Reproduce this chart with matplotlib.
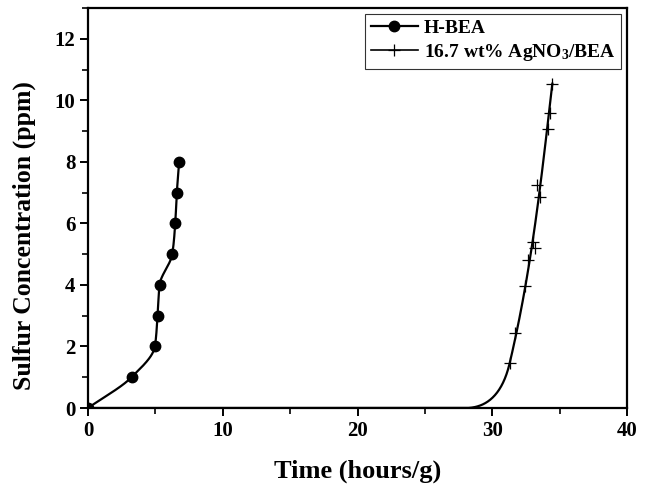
import numpy as np
import matplotlib
matplotlib.use("Agg")
import matplotlib.pyplot as plt
from matplotlib.ticker import MultipleLocator

plt.rcParams['font.family'] = ['Liberation Serif', 'DejaVu Serif']
plt.rcParams['font.weight'] = 'bold'
plt.rcParams['mathtext.fontset'] = 'custom'
plt.rcParams['mathtext.rm'] = 'Liberation Serif:bold'
plt.rcParams['mathtext.bf'] = 'Liberation Serif:bold'
plt.rcParams['mathtext.it'] = 'Liberation Serif:bold'

# ---- data ----
hbea_time = [0.0, 3.23, 4.96, 5.16, 5.31, 6.25, 6.47, 6.59, 6.76]
hbea_conc = [0.0, 1.0, 2.0, 3.0, 4.0, 5.0, 6.0, 7.0, 8.0]

ag_time = [31.33, 31.70, 32.44, 32.64, 32.99, 33.19, 33.53, 33.33, 34.10, 34.27, 34.42]
ag_conc = [1.45, 2.43, 3.95, 4.81, 5.41, 5.19, 6.87, 7.25, 9.06, 9.60, 10.54]
ag_onset_time = 28.0   # concentration stays at 0 until about here

labels = ['H-BEA', r'16.7 wt% AgNO$_3$/BEA']
x_label = 'Time (hours/g)'
y_label = 'Sulfur Concentration (ppm)'


def pchip(x, y, xn):
    x = np.asarray(x, float)
    y = np.asarray(y, float)
    h = np.diff(x)
    d = np.diff(y) / h
    m = np.zeros_like(x)
    for k in range(1, len(x) - 1):
        if d[k - 1] * d[k] > 0:
            w1 = 2 * h[k] + h[k - 1]
            w2 = h[k] + 2 * h[k - 1]
            m[k] = (w1 + w2) / (w1 / d[k - 1] + w2 / d[k])
    m[0] = d[0]
    m[-1] = d[-1]
    out = np.empty_like(xn)
    idx = np.clip(np.searchsorted(x, xn) - 1, 0, len(x) - 2)
    for j, xv in enumerate(xn):
        k = idx[j]
        t = (xv - x[k]) / h[k]
        h00 = 2 * t**3 - 3 * t**2 + 1
        h10 = t**3 - 2 * t**2 + t
        h01 = -2 * t**3 + 3 * t**2
        h11 = t**3 - t**2
        out[j] = h00 * y[k] + h10 * h[k] * m[k] + h01 * y[k + 1] + h11 * h[k] * m[k + 1]
    return out


fig = plt.figure(figsize=(6.53, 4.88), dpi=100)
ax = fig.add_axes([0.1348, 0.1639, 0.8255, 0.8197])

# H-BEA: smooth curve, time as a monotone function of concentration
yy = np.linspace(hbea_conc[0], hbea_conc[-1], 400)
xx = pchip(hbea_conc, hbea_time, yy)
ax.plot(xx, yy, color='black', lw=1.6, zorder=3)
ax.plot(hbea_time, hbea_conc, 'o', color='black', ms=7.5, zorder=4)

# AgNO3/BEA: least-squares smooth of the rising part + smooth onset from baseline
ag_t = np.asarray(ag_time)
ag_c = np.asarray(ag_conc)
coef = np.polyfit(ag_c, ag_t, 3)
c0 = ag_c.min()
yr = np.linspace(c0, ag_c.max(), 200)
xr = np.polyval(coef, yr)
x0 = np.polyval(coef, c0)
dxdy = np.polyval(np.polyder(coef), c0)
P0 = np.array([ag_onset_time, 0.0])
P1 = np.array([x0, c0])
L = np.linalg.norm(P1 - P0)
M0 = np.array([L * 1.1, 0.0])
tv = np.array([dxdy, 1.0])
M1 = L * 1.1 * tv / np.linalg.norm(tv)
t = np.linspace(0, 1, 100)[:, None]
H = ((2 * t**3 - 3 * t**2 + 1) * P0 + (t**3 - 2 * t**2 + t) * M0
     + (-2 * t**3 + 3 * t**2) * P1 + (t**3 - t**2) * M1)
cx = np.concatenate([[0.0], H[:, 0], xr])
cy = np.concatenate([[0.0], H[:, 1], yr])
ax.plot(cx, cy, color='black', lw=1.6, zorder=3)
ax.plot(ag_time, ag_conc, '+', color='black', ms=8, mew=0.9, zorder=4)

# legend proxies
h1, = ax.plot([], [], '-o', color='black', lw=1.6, ms=7.5)
h2, = ax.plot([], [], '-+', color='black', lw=1.2, ms=8, mew=0.9)
leg = ax.legend([h1, h2], labels, loc='upper right', fontsize=14,
                frameon=True, fancybox=False, edgecolor='black',
                handlelength=2.4, handletextpad=0.3, borderpad=0.3,
                labelspacing=0.25, borderaxespad=0.3)
leg.get_frame().set_linewidth(0.8)
for tx in leg.get_texts():
    tx.set_fontweight('bold')

ax.set_xlim(0, 40)
ax.set_ylim(0, 13)
ax.xaxis.set_major_locator(MultipleLocator(10))
ax.xaxis.set_minor_locator(MultipleLocator(5))
ax.yaxis.set_major_locator(MultipleLocator(2))
ax.yaxis.set_minor_locator(MultipleLocator(1))
ax.tick_params(which='major', direction='out', length=6, width=1.4, labelsize=15, pad=3)
ax.tick_params(which='minor', direction='out', length=4, width=1.2)
for lab in ax.get_xticklabels() + ax.get_yticklabels():
    lab.set_fontweight('bold')
for s in ax.spines.values():
    s.set_linewidth(1.6)

ax.set_xlabel(x_label, fontsize=19, fontweight='bold', labelpad=14)
ax.set_ylabel(y_label, fontsize=18.5, fontweight='bold')
ax.yaxis.set_label_coords(-0.097, 0.43)

fig.savefig('out.png', dpi=100)
